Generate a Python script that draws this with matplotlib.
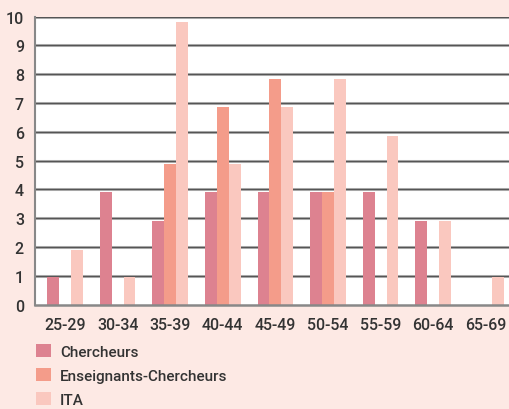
import matplotlib
matplotlib.use("Agg")
import matplotlib.pyplot as plt
import numpy as np
from matplotlib.patches import Patch

plt.rcParams['font.family'] = ['Roboto', 'DejaVu Sans']
plt.rcParams['font.weight'] = 'medium'

age_groups = ["25-29", "30-34", "35-39", "40-44", "45-49", "50-54", "55-59", "60-64", "65-69"]
chercheurs = [0.95, 3.9, 2.9, 3.9, 3.9, 3.9, 3.9, 2.9, 0]
enseignants_chercheurs = [0, 0, 4.9, 6.85, 7.85, 3.9, 0, 0, 0]
ita = [1.9, 0.95, 9.8, 4.9, 6.85, 7.85, 5.85, 2.9, 0.95]
series_names = ["Chercheurs", "Enseignants-Chercheurs", "ITA"]
colors = ["#dd8290", "#f49c8a", "#fac8bf"]

bg = "#fde9e4"
text_color = "#333333"

fig = plt.figure(figsize=(5.1, 4.1), dpi=100, facecolor=bg)
ax = fig.add_axes([35 / 510, 0.2544, 1 - 35 / 510, 0.957 - 0.2544])
ax.set_facecolor("white")

x = np.arange(len(age_groups))
w = 0.225
for i, (vals, c) in enumerate(zip([chercheurs, enseignants_chercheurs, ita], colors)):
    ax.bar(x + (i - 1) * w, vals, width=w, color=c, zorder=3, linewidth=0)

ax.set_xlim(-0.57, 8.46)
ax.set_ylim(0, 10)
ax.set_yticks(range(0, 11))
ax.set_xticks(x)
ax.set_xticklabels(age_groups)

for yv in range(1, 11):
    ax.axhline(yv, color="#bbbbbb", lw=2.2, zorder=1)
    ax.axhline(yv, color="#555555", lw=1.0, zorder=2)

for s in ["top", "right"]:
    ax.spines[s].set_visible(False)
ax.spines["left"].set_color("#888888")
ax.spines["left"].set_linewidth(1.5)
ax.spines["bottom"].set_color("#888888")
ax.spines["bottom"].set_linewidth(1.8)
ax.spines["bottom"].set_zorder(4)

ax.tick_params(axis="both", length=0, labelsize=11.5, colors=text_color)
ax.tick_params(axis="y", pad=8)
ax.tick_params(axis="x", pad=9)

handles = [Patch(facecolor=c, edgecolor="none") for c in colors]
fig.legend(handles, series_names, loc="upper left", bbox_to_anchor=(24 / 510, 1 - 333 / 410),
           frameon=False, handlelength=0.95, handleheight=0.95, handletextpad=0.6,
           labelspacing=0.6, fontsize=11, labelcolor=text_color, borderpad=0.3)

fig.savefig("out.png", dpi=100, facecolor=bg)
